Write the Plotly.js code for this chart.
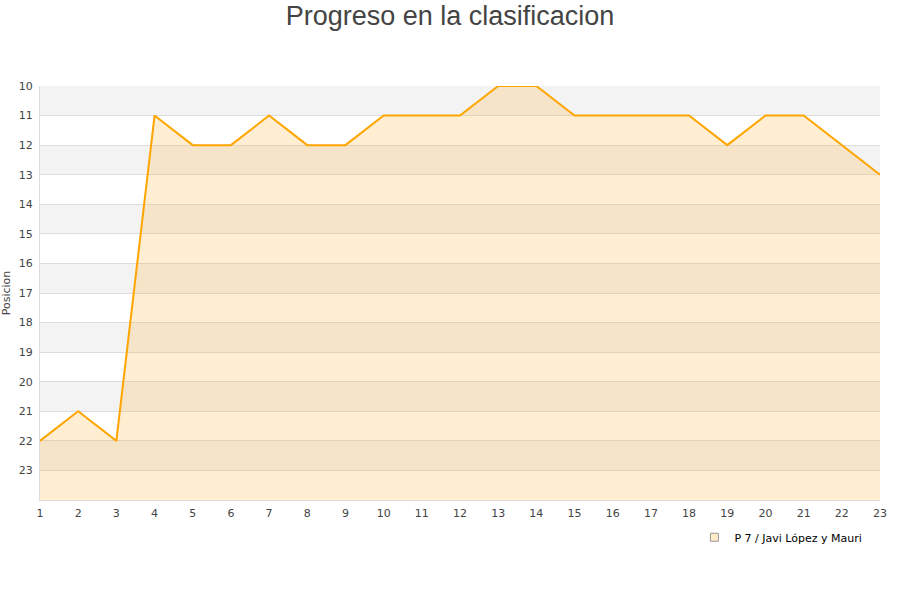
<!DOCTYPE html>
<html>
<head>
<meta charset="utf-8">
<script src="https://cdn.plot.ly/plotly-3.0.1.min.js"></script>
<style>
  body { margin: 0; background: #fff; }
  #plot { width: 900px; height: 600px; }
</style>
</head>
<body>
<div id="plot"></div>
<script>
// jornadas y posicion
var jornadas = [1, 2, 3, 4, 5, 6, 7, 8, 9, 10, 11, 12, 13, 14, 15, 16, 17, 18, 19, 20, 21, 22, 23];
var posicion = [22, 21, 22, 11, 12, 12, 11, 12, 12, 11, 11, 11, 10, 10, 11, 11, 11, 11, 12, 11, 11, 12, 13];
var fondo = [24, 24, 24, 24, 24, 24, 24, 24, 24, 24, 24, 24, 24, 24, 24, 24, 24, 24, 24, 24, 24, 24, 24];
var yTicks = [10, 11, 12, 13, 14, 15, 16, 17, 18, 19, 20, 21, 22, 23];
var equipo = 'P 7 / Javi López y Mauri';

// bandas grises alternas
var shapes = [];
for (var i = 10; i < 24; i += 2) {
  shapes.push({
    type: 'rect', xref: 'paper', yref: 'y',
    x0: 0, x1: 1, y0: i, y1: i + 1,
    fillcolor: '#f3f3f3', line: {width: 0}, layer: 'below'
  });
}

var base = {
  x: jornadas, y: fondo,
  mode: 'lines', line: {width: 0},
  showlegend: false, hoverinfo: 'skip'
};

var trace = {
  x: jornadas, y: posicion,
  name: equipo,
  mode: 'lines',
  fill: 'tonexty',
  fillcolor: 'rgba(255,170,30,0.2)',
  line: {color: '#ffa500', width: 2},
  showlegend: false
};

// solo para la leyenda (cuadrado)
var leyenda = {
  x: [null], y: [null],
  name: equipo,
  mode: 'markers',
  marker: {symbol: 'square', size: 8, color: '#fdebc8', line: {color: '#999', width: 1}}
};

var layout = {
  width: 900, height: 600,
  margin: {l: 40, r: 20, t: 86, b: 100},
  paper_bgcolor: '#fff',
  plot_bgcolor: '#fff',
  font: {family: 'DejaVu Sans', size: 11, color: '#444'},
  title: {
    text: 'Progreso en la clasificacion',
    font: {family: 'Liberation Sans', size: 27, color: '#444'},
    x: 0.5, xanchor: 'center', y: 0.974, yanchor: 'middle'
  },
  shapes: shapes,
  xaxis: {
    range: [1, 23],
    tickvals: jornadas,
    showgrid: false,
    zeroline: false,
    showline: true, linecolor: '#ddd', linewidth: 1,
    ticks: '', ticklen: 0,
    ticklabelstandoff: 3,
    tickfont: {size: 11, color: '#444'}
  },
  yaxis: {
    range: [24, 10],
    tickvals: yTicks,
    showgrid: true, gridcolor: '#dddddd', gridwidth: 1,
    zeroline: false,
    showline: true, linecolor: '#ddd', linewidth: 1,
    ticks: '',
    ticklabelstandoff: 4,
    tickfont: {size: 11, color: '#444'},
    title: {text: 'Posicion', font: {size: 11, color: '#444'}, standoff: 8}
  },
  showlegend: true,
  legend: {
    x: 0.985, xanchor: 'right', y: -0.055, yanchor: 'top',
    font: {size: 11, color: '#000'},
    itemwidth: 30,
    bgcolor: 'rgba(0,0,0,0)'
  }
};

Plotly.newPlot('plot', [base, trace, leyenda], layout, {displayModeBar: false});
</script>
</body>
</html>
